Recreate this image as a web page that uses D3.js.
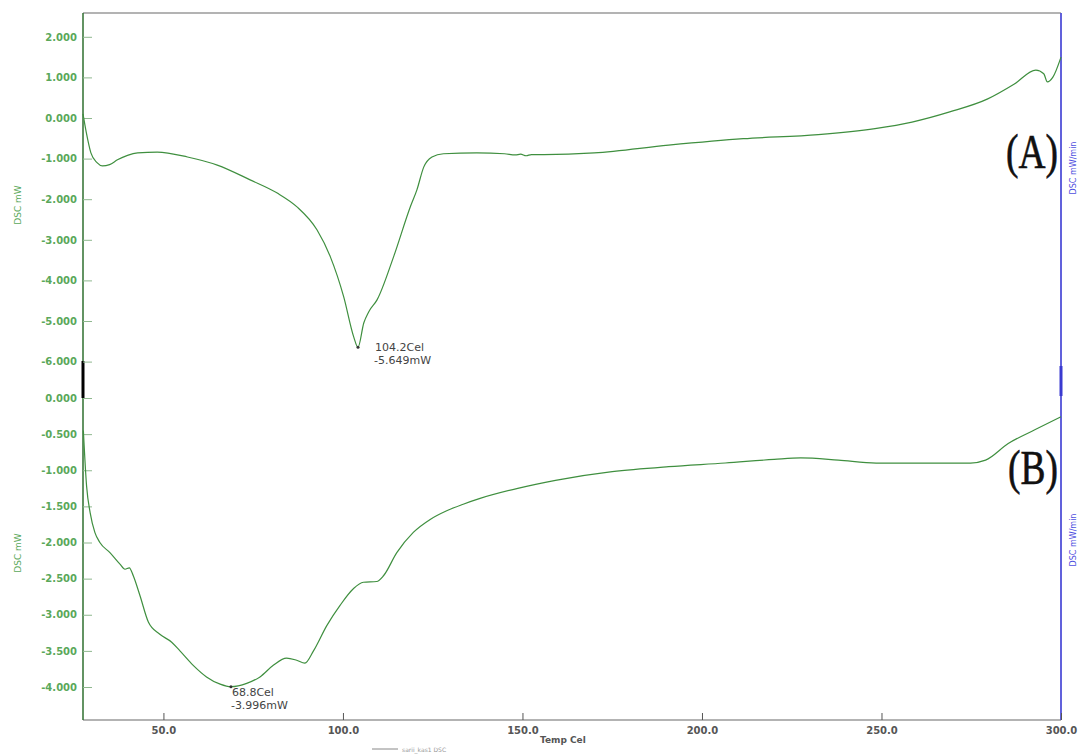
<!DOCTYPE html>
<html>
<head>
<meta charset="utf-8">
<script src="https://cdnjs.cloudflare.com/ajax/libs/d3/7.8.5/d3.min.js"></script>
<style>
  body { margin: 0; background: #fff; }
  svg text { font-family: "DejaVu Sans", Verdana, sans-serif; }
</style>
</head>
<body>
<div id="chart"></div>
<script>
// temperature (Cel) and heat flow (mW)
const tempA = [27.6, 28.5, 29.8, 31.5, 33.0, 35.0, 37.2, 40, 42.8, 48.3, 56.7, 65.0, 74.3, 81.7, 87.2, 92.8, 96.5, 100.2, 103.0, 104.2, 105.8, 107.2, 109.5, 114.1, 118.8, 120.6, 122.5, 124.8, 128, 137.3, 145, 148, 149.5, 151, 152.5, 156, 170, 190.7, 211.5, 232.4, 248.2, 258.5, 269, 279.6, 286.9, 293, 295.2, 296.2, 297.7, 300];
const dscA = [0.1, -0.35, -0.86, -1.1, -1.18, -1.15, -1.03, -0.92, -0.86, -0.84, -0.96, -1.16, -1.53, -1.85, -2.19, -2.76, -3.42, -4.40, -5.39, -5.649, -5.05, -4.77, -4.48, -3.42, -2.18, -1.77, -1.21, -0.96, -0.88, -0.86, -0.88, -0.91, -0.89, -0.93, -0.9, -0.9, -0.86, -0.67, -0.51, -0.41, -0.26, -0.1, 0.15, 0.47, 0.83, 1.18, 1.09, 0.89, 1.0, 1.5];

const tempB = [27.7, 28.6, 29.6, 30.9, 32.3, 35.1, 37.9, 39.3, 40.5, 41.6, 43.5, 45.8, 49.0, 52.3, 54.6, 58.3, 62.0, 65.8, 68.8, 73.2, 76.9, 80.6, 84.3, 87.1, 89.4, 91.8, 95.5, 99.2, 102.9, 105.7, 109.4, 111.3, 115.0, 119.6, 124.3, 128.9, 133.5, 138.2, 148.7, 159.2, 175, 190.7, 206.5, 220.1, 227.5, 238, 248.5, 264.4, 274.8, 279, 285.3, 292.7, 300];
const dscB = [-0.45, -1.22, -1.59, -1.86, -2.0, -2.14, -2.30, -2.37, -2.35, -2.46, -2.74, -3.10, -3.27, -3.38, -3.50, -3.70, -3.86, -3.96, -3.996, -3.95, -3.86, -3.70, -3.60, -3.63, -3.67, -3.50, -3.15, -2.87, -2.64, -2.55, -2.54, -2.46, -2.14, -1.86, -1.68, -1.56, -1.47, -1.39, -1.25, -1.14, -1.02, -0.95, -0.90, -0.85, -0.83, -0.86, -0.90, -0.90, -0.90, -0.86, -0.63, -0.44, -0.26];

const xTicks = [50, 100, 150, 200, 250, 300];
const topTicks = [2, 1, 0, -1, -2, -3, -4, -5, -6];
const botTicks = [0, -0.5, -1, -1.5, -2, -2.5, -3, -3.5, -4];

const peaks = [
    { panel: "A", t: 104.2, v: -5.649 },
    { panel: "B", t: 68.8, v: -3.996 }
];

const width = 1081, height = 754;
const plotLeft = 83, plotRight = 1061, plotTop = 13, plotBottom = 720;

const svg = d3.select("#chart").append("svg")
    .attr("width", width)
    .attr("height", height);

const x = d3.scaleLinear().domain([27.6, 300]).range([plotLeft, plotRight]);
const yA = d3.scaleLinear().domain([0, -6]).range([118, 361.6]);
const yB = d3.scaleLinear().domain([0, -4]).range([398, 687]);

const green = "#3f8f3f";
const labelGreen = "#5aa85a";

// ---------- frame ----------
svg.append("line").attr("x1", plotLeft).attr("x2", plotRight).attr("y1", plotTop).attr("y2", plotTop)
    .attr("stroke", "#9a9a9a").attr("stroke-width", 1.5);
svg.append("line").attr("x1", plotLeft).attr("x2", plotRight).attr("y1", plotBottom).attr("y2", plotBottom)
    .attr("stroke", "#9a9a9a").attr("stroke-width", 1.5);
svg.append("line").attr("x1", plotLeft).attr("x2", plotLeft).attr("y1", plotTop).attr("y2", plotBottom)
    .attr("stroke", "#2f6f2f").attr("stroke-width", 1.5);
svg.append("line").attr("x1", plotLeft).attr("x2", plotLeft).attr("y1", 361).attr("y2", 398)
    .attr("stroke", "#000").attr("stroke-width", 3);
svg.append("line").attr("x1", plotRight).attr("x2", plotRight).attr("y1", plotTop).attr("y2", plotBottom)
    .attr("stroke", "#5050d8").attr("stroke-width", 1.8);
svg.append("line").attr("x1", plotRight).attr("x2", plotRight).attr("y1", 366).attr("y2", 396)
    .attr("stroke", "#3a3ad0").attr("stroke-width", 3);

// ---------- axes ----------
function leftAxis(scale, ticks) {
    const g = svg.append("g")
        .attr("transform", `translate(${plotLeft},0)`)
        .call(d3.axisLeft(scale).tickValues(ticks).tickSize(-9).tickPadding(6)
            .tickFormat(d3.format(".3f")));
    g.select(".domain").remove();
    g.selectAll(".tick line").attr("stroke", "#8fb88f");
    g.selectAll(".tick text")
        .attr("fill", labelGreen)
        .style("font-size", "10px")
        .style("font-weight", "bold")
        .text(d => d3.format(".3f")(d).replace("−", "-"));
}
leftAxis(yA, topTicks);
leftAxis(yB, botTicks);

const xg = svg.append("g")
    .attr("transform", `translate(0,${plotBottom})`)
    .call(d3.axisBottom(x).tickValues(xTicks).tickSize(-7).tickPadding(7)
        .tickFormat(d3.format(".1f")));
xg.select(".domain").remove();
xg.selectAll(".tick line").attr("stroke", "#555");
xg.selectAll(".tick text")
    .attr("fill", "#555")
    .style("font-size", "10px")
    .style("font-weight", "bold");

// ---------- axis titles ----------
svg.append("text").attr("transform", "translate(21,205) rotate(-90)")
    .attr("text-anchor", "middle").attr("fill", labelGreen)
    .style("font-size", "9px").text("DSC mW");
svg.append("text").attr("transform", "translate(21,553) rotate(-90)")
    .attr("text-anchor", "middle").attr("fill", labelGreen)
    .style("font-size", "9px").text("DSC mW");
svg.append("text").attr("transform", "translate(1076,168) rotate(-90)")
    .attr("text-anchor", "middle").attr("fill", "#5050e0")
    .style("font-size", "8px").text("DSC mW/min");
svg.append("text").attr("transform", "translate(1076,540) rotate(-90)")
    .attr("text-anchor", "middle").attr("fill", "#5050e0")
    .style("font-size", "8px").text("DSC mW/min");

svg.append("text").attr("x", 540).attr("y", 743)
    .attr("fill", "#555").style("font-size", "9px").style("font-weight", "bold")
    .text("Temp Cel");

// legend
svg.append("line").attr("x1", 372).attr("x2", 398).attr("y1", 749).attr("y2", 749)
    .attr("stroke", "#888").attr("stroke-width", 1);
svg.append("text").attr("x", 402).attr("y", 752)
    .attr("fill", "#999").style("font-size", "6px").text("sarii_kas1   DSC");

// ---------- curves ----------
const lineA = d3.line().x(d => x(d[0])).y(d => yA(d[1])).curve(d3.curveMonotoneX);
const lineB = d3.line().x(d => x(d[0])).y(d => yB(d[1])).curve(d3.curveMonotoneX);

svg.append("path").datum(d3.zip(tempA, dscA))
    .attr("d", lineA).attr("fill", "none")
    .attr("stroke", green).attr("stroke-width", 1.2);
svg.append("path").datum(d3.zip(tempB, dscB))
    .attr("d", lineB).attr("fill", "none")
    .attr("stroke", green).attr("stroke-width", 1.2);

// ---------- peak annotations ----------
peaks.forEach(p => {
    const yS = p.panel === "A" ? yA : yB;
    const px = x(p.t), py = yS(p.v);
    svg.append("circle").attr("cx", px).attr("cy", py).attr("r", 1.5).attr("fill", "#333");
    const tx = p.panel === "A" ? px + 17 : px + 1;
    const ty = p.panel === "A" ? py + 4 : py + 9;
    svg.append("text").attr("x", tx).attr("y", ty)
        .attr("fill", "#444").style("font-size", "11px")
        .text(p.t.toFixed(1) + "Cel");
    svg.append("text").attr("x", tx - 1).attr("y", ty + 13)
        .attr("fill", "#444").style("font-size", "11px")
        .text(p.v.toFixed(3) + "mW");
});

// ---------- panel labels ----------
[["(A)", 168], ["(B)", 484]].forEach(([label, by]) => {
    svg.append("text").attr("x", 1058).attr("y", by)
        .attr("text-anchor", "end").attr("fill", "#111")
        .attr("stroke", "#111").attr("stroke-width", 0.6)
        .style("font-family", "'Liberation Serif', 'DejaVu Serif', serif")
        .style("font-size", "48px")
        .attr("transform", `translate(1058,${by}) scale(0.78,1) translate(-1058,${-by})`)
        .text(label);
});
</script>
</body>
</html>
